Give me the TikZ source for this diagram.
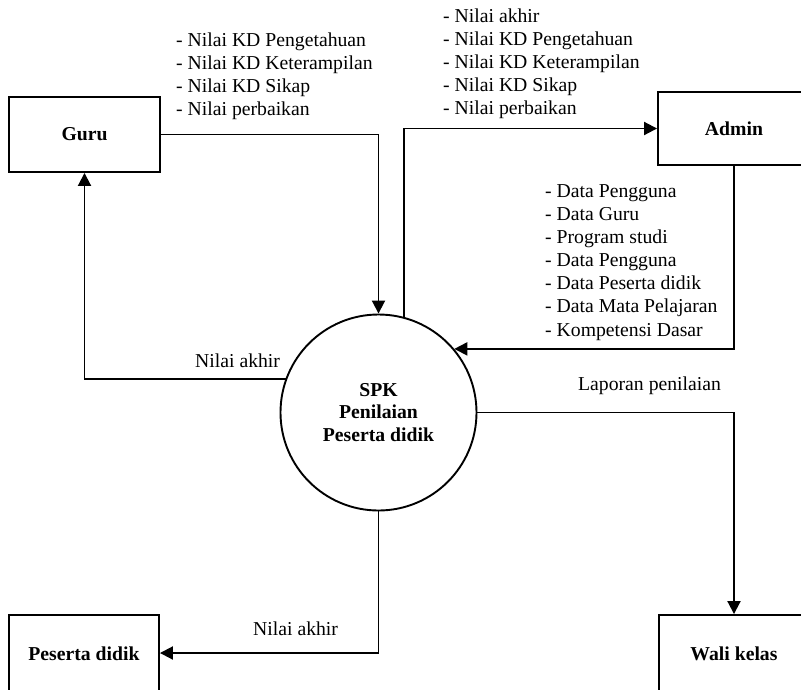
\documentclass[tikz,border=0pt]{standalone}
\usepackage{fontspec}
\setmainfont{Liberation Serif}
\usetikzlibrary{arrows.meta}
\begin{document}
\begin{tikzpicture}[x=1pt,y=-1pt,
  ent/.style={draw, line width=1.9pt, minimum width=151pt, minimum height=75pt,
    inner sep=0pt, font=\bfseries\fontsize{19.7}{23}\selectfont},
  proc/.style={draw, circle, line width=1.9pt, minimum size=196pt, inner sep=0pt,
    align=center, font=\bfseries\fontsize{19.7}{22.5}\selectfont},
  flow/.style={line width=1.9pt, -{Triangle[length=13pt,width=13pt]}},
  list/.style={align=left, inner sep=0pt, anchor=north west,
    font=\fontsize{19.7}{23.1}\selectfont},
  lbl/.style={inner sep=0pt, anchor=base west, font=\fontsize{19.7}{23}\selectfont}]
\useasboundingbox (0,0) rectangle (801,689);
\clip (0,0) rectangle (801,689);

% external entities and the process
\node[ent] (guru) at (84.5,134.5) {Guru};
\node[ent, minimum height=73pt, minimum width=152pt] (admin) at (734,128.5) {Admin};
\node[ent, minimum width=150pt, minimum height=78pt] (peserta) at (84,654) {Peserta didik};
\node[ent, minimum width=150pt, minimum height=78pt] (wali) at (734,654) {Wali kelas};
\node[proc] (spk) at (378.5,412.5) {SPK\\Penilaian\\Peserta didik};

% data flows
\draw[flow] (guru.east) -| (spk.north);
\draw[flow] (spk.75) |- (admin.west);
\draw[flow] (admin.south) |- (spk.40);
\draw[flow] (spk.160) -| (guru.south);
\draw[flow] (spk.east) -| (wali.north);
\draw[flow] (spk.south) |- ([yshift=1pt]peserta.east);

% flow labels
\node[list] (lguru) at (176,32.7) {- Nilai KD Pengetahuan\\- Nilai KD Keterampilan\\- Nilai KD Sikap\\- Nilai perbaikan};
\node[list] (ladmin) at (443,8.7) {- Nilai akhir\\- Nilai KD Pengetahuan\\- Nilai KD Keterampilan\\- Nilai KD Sikap\\- Nilai perbaikan};
\node[list] (lmaster) at (545,184.3) {- Data Pengguna\\- Data Guru\\- Program studi\\- Data Pengguna\\- Data Peserta didik\\- Data Mata Pelajaran\\- Kompetensi Dasar};
\node[lbl] (lnilai1) at (195,367) {Nilai akhir};
\node[lbl] (llapor) at (578,390) {Laporan penilaian};
\node[lbl] (lnilai2) at (253,635) {Nilai akhir};
\end{tikzpicture}
\end{document}
